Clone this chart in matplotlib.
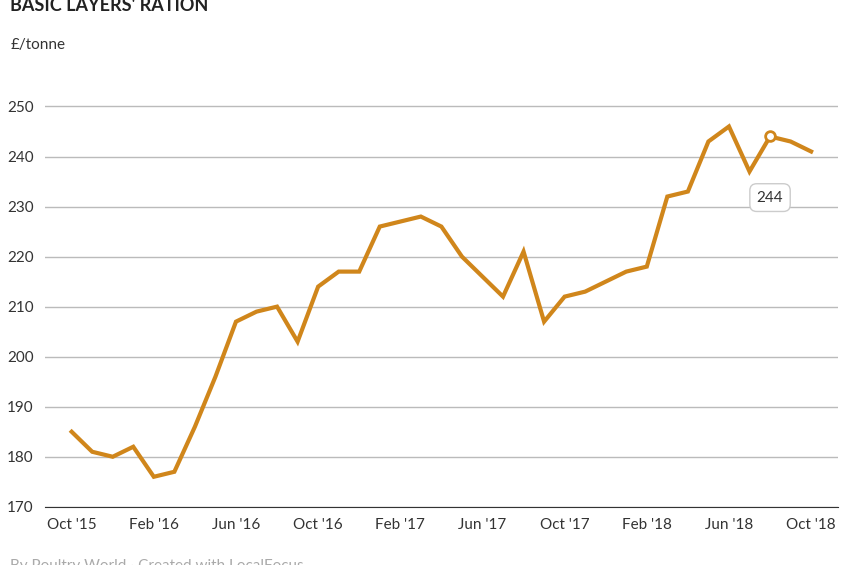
import matplotlib
matplotlib.use("Agg")
import matplotlib.pyplot as plt

values = [185,181,180,182,176,177,186,196,207,209,210,203,214,217,217,226,227,228,226,220,216,212,221,207,212,213,215,217,218,232,233,243,246,237,244,243,241]
tick_pos = [0,4,8,12,16,20,24,28,32,36]
tick_labels = ["Oct '15","Feb '16","Jun '16","Oct '16","Feb '17","Jun '17","Oct '17","Feb '18","Jun '18","Oct '18"]
yticks = [170,180,190,200,210,220,230,240,250]
hl_idx = 34

color = "#d0861b"
fig = plt.figure(figsize=(8.48,5.65), dpi=100)
ax = fig.add_axes([0.053, 0.103, 0.935, 0.744])
x = list(range(len(values)))
ax.plot(x, values, color=color, lw=3, solid_joinstyle="miter", zorder=3)
ax.plot(hl_idx, values[hl_idx], 'o', ms=7, mfc="white", mec=color, mew=2, zorder=4)
ax.annotate(str(values[hl_idx]), (hl_idx, values[hl_idx]), xytext=(0,-44), textcoords="offset points",
            ha="center", va="center", fontsize=11, color="#333333", family="Source Sans Pro" if False else "Lato",
            bbox=dict(boxstyle="round,pad=0.45", fc="white", ec="#cccccc"))
ax.set_ylim(170,254)
ax.set_xlim(-1.3, 37.3)
ax.set_yticks(yticks)
ax.set_xticks(tick_pos, tick_labels)
ax.grid(axis="y", color="#bbbbbb", lw=1)
ax.set_axisbelow(True)
for s in ax.spines.values():
    s.set_visible(False)
ax.spines["bottom"].set_visible(True)
ax.spines["bottom"].set_color("#333333")
ax.tick_params(axis="both", length=0, labelsize=11, colors="#333333", pad=8)
for l in ax.get_yticklabels()+ax.get_xticklabels():
    l.set_family("Lato")
fig.text(0.012, 0.99, "BASIC LAYERS' RATION", fontsize=13, fontweight="bold", color="#222222", va="center", family="Lato")
fig.text(0.012, 0.92, "£/tonne", fontsize=11, color="#333333", va="center", family="Lato")
fig.text(0.012, -0.002, "By Poultry World · Created with LocalFocus", fontsize=11, color="#aaaaaa", va="center", family="Lato")
fig.savefig("out.png", dpi=100)
